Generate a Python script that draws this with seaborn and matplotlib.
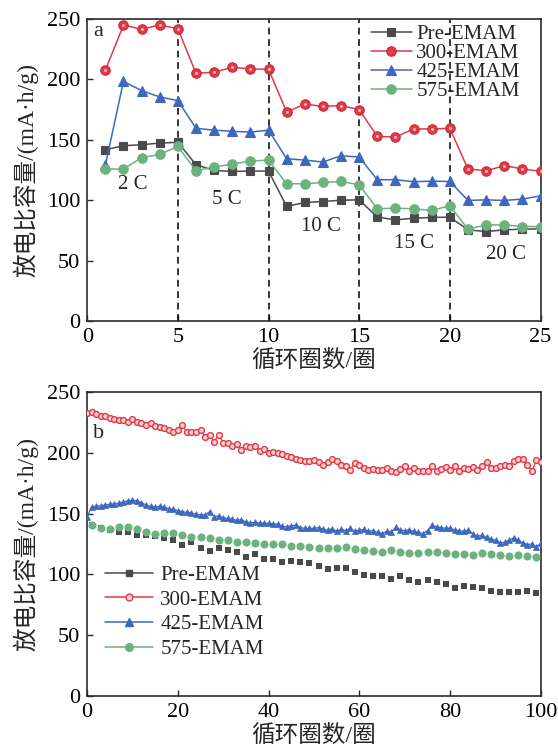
import numpy as np
import pandas as pd
import matplotlib
matplotlib.use("Agg")
import matplotlib.pyplot as plt
from matplotlib.lines import Line2D
import seaborn as sns

# ---------------- data: panel a (rate performance) ----------------
rate_cycles = list(range(1, 26))
pre_rate = [141.8, 145.1, 145.9, 147.3, 147.9, 129.4, 124.6, 123.8, 124.1, 124.1,
            94.8, 98.1, 98.9, 100.0, 100.3, 86.0, 83.7, 85.1, 85.7, 86.0,
            75.5, 74.0, 75.5, 76.0, 76.3]
e300_rate = [207.5, 245.0, 241.5, 245.0, 242.0, 205.0, 206.0, 210.0, 208.7, 208.4,
             173.0, 179.5, 177.7, 178.3, 175.0, 152.8, 152.3, 159.0, 159.0, 159.5,
             125.8, 124.4, 128.5, 126.0, 123.8]
e425_rate = [128.8, 198.4, 190.7, 185.5, 182.4, 159.5, 158.0, 157.0, 156.4, 158.0,
             134.3, 133.2, 131.6, 136.8, 135.7, 116.9, 117.0, 115.3, 115.8, 115.5,
             99.8, 100.3, 99.8, 100.9, 103.6]
e575_rate = [125.8, 125.8, 135.2, 137.9, 144.5, 124.4, 127.4, 129.9, 132.4, 133.2,
             113.6, 113.6, 114.7, 115.5, 112.8, 92.9, 93.4, 92.9, 91.5, 95.4,
             76.0, 79.6, 79.6, 78.2, 78.2]
rate_boundaries = [5, 10, 15, 20]
rate_labels = ["2 C", "5 C", "10 C", "15 C", "20 C"]
rate_label_x = [2.53, 7.7, 12.9, 18.0, 23.1]
rate_label_y = [112.8, 100.3, 78.0, 64.4, 54.7]

# ---------------- data: panel b (cycling) ----------------
cycles_full = list(range(0, 101))
cycles_odd = list(range(1, 100, 2))
e300_cyc = [232.8, 233.6, 232.3, 230.3, 230.1, 229.0, 228.1, 227.3, 226.7, 225.3,
            227.6, 225.3, 224.5, 223.1, 224.5, 222.0, 221.2, 220.6, 219.0, 217.0,
            218.4, 222.6, 217.0, 217.0, 217.0, 219.0, 213.0, 214.9, 208.8, 215.0,
            208.2, 208.0, 206.0, 207.4, 202.4, 206.0, 204.6, 205.4, 201.8, 202.9,
            199.6, 200.4, 199.9, 199.0, 197.1, 196.3, 194.9, 194.1, 193.5, 193.5,
            194.1, 192.2, 190.0, 192.7, 195.0, 193.6, 190.3, 189.5, 186.0, 191.6,
            190.0, 187.3, 186.0, 186.3, 186.0, 186.0, 187.6, 185.2, 184.4, 186.3,
            189.4, 185.2, 187.3, 185.2, 184.7, 185.2, 189.4, 185.2, 186.6, 188.0,
            185.8, 189.4, 185.2, 187.3, 186.6, 188.0, 186.1, 189.4, 192.2, 187.3,
            187.3, 188.9, 190.0, 189.4, 193.6, 195.0, 195.0, 190.3, 184.7, 194.0,
            192.2]
e425_cyc = [147.4, 155.2, 156.0, 156.5, 157.0, 157.5, 158.0, 158.5, 159.5, 160.5,
            161.0, 160.5, 159.0, 157.0, 156.0, 155.5, 156.0, 155.5, 154.0, 153.5,
            152.5, 151.5, 151.0, 150.5, 149.5, 148.8, 149.0, 151.6, 147.5, 148.0,
            146.5, 146.0, 145.2, 144.5, 145.0, 143.0, 142.5, 142.8, 142.2, 141.9,
            142.0, 141.5, 141.3, 139.5, 139.1, 140.0, 140.5, 138.5, 137.8, 138.0,
            137.8, 138.5, 137.0, 136.5, 137.5, 135.5, 137.0, 136.0, 137.8, 135.5,
            136.5, 137.0, 135.5, 136.0, 134.5, 133.6, 135.5, 135.0, 138.6, 136.5,
            136.0, 136.5, 135.5, 134.5, 133.6, 136.0, 140.5, 139.0, 138.5, 137.8,
            138.0, 136.5, 136.0, 135.5, 136.5, 133.5, 131.4, 132.0, 130.5, 129.0,
            128.0, 125.8, 126.5, 128.0, 130.3, 128.0, 126.0, 124.5, 125.0, 122.5,
            125.8]
e575_cyc = [140.7, 138.5, 137.2, 138.8, 138.8, 137.2, 135.2, 133.2, 133.8, 133.8,
            132.4, 131.0, 131.0, 130.2, 128.2, 128.2, 126.9, 126.9, 125.5, 124.7,
            124.7, 125.0, 123.3, 123.3, 122.7, 121.9, 121.3, 121.3, 122.7, 120.5,
            120.0, 119.4, 118.6, 120.0, 118.6, 117.8, 117.8, 118.3, 118.6, 117.2,
            116.6, 116.6, 116.3, 117.8, 116.6, 116.1, 115.5, 116.3, 115.3, 114.4]
pre_cyc = [141.0, 138.0, 136.8, 134.6, 134.6, 132.6, 132.6, 131.2, 129.9, 127.9,
           124.3, 126.5, 121.5, 119.3, 121.5, 120.2, 118.8, 114.6, 116.6, 112.9,
           112.4, 110.4, 111.0, 110.4, 109.1, 106.9, 104.4, 105.5, 105.0, 101.6,
           99.4, 98.6, 98.6, 96.6, 98.6, 95.8, 93.8, 95.3, 93.8, 91.7,
           88.9, 90.5, 89.7, 88.9, 86.4, 85.5, 85.5, 85.5, 86.4, 84.7]

series_names = ["Pre-EMAM", "300-EMAM", "425-EMAM", "575-EMAM"]
xlabel = "循环圈数/圈"
ylabel = "放电比容量/(mA·h/g)"

# ---------------- style ----------------
sns.set_theme(style="ticks")
plt.rcParams["font.family"] = ["Liberation Serif", "Noto Sans CJK SC"]
plt.rcParams["axes.unicode_minus"] = False

C_GREY = "#4a4a4a"
C_RED = "#e03a46"
C_BLUE = "#3d68bf"
C_GREEN = "#6cb27f"

fig = plt.figure(figsize=(5.58, 7.51), dpi=100)
W, H = 558.0, 751.0
ax1 = fig.add_axes([87.2 / W, 1 - 321 / H, (540.5 - 87.2) / W, (321 - 19) / H])
ax2 = fig.add_axes([87.0 / W, 1 - 696 / H, (541 - 87.0) / W, (696 - 392) / H])

# ---------------- panel a ----------------
styles_a = [
    dict(color=C_GREY, marker="s", markersize=6.2, markerfacecolor=C_GREY, markeredgecolor=C_GREY),
    dict(color=C_RED, marker="o", markersize=6.8, markerfacecolor=C_RED, markeredgecolor="#c52c38"),
    dict(color=C_BLUE, marker="^", markersize=7.5, markerfacecolor=C_BLUE, markeredgecolor=C_BLUE),
    dict(color=C_GREEN, marker="o", markersize=6.8, markerfacecolor=C_GREEN, markeredgecolor=C_GREEN),
]
for vals, st in zip([pre_rate, e300_rate, e425_rate, e575_rate], styles_a):
    sns.lineplot(x=rate_cycles, y=vals, ax=ax1, linewidth=1.1, sort=False,
                 estimator=None, markeredgewidth=0.8, zorder=3, **st)
# highlight on red balls
sns.lineplot(x=rate_cycles, y=e300_rate, ax=ax1, linestyle="none", marker="o",
             markersize=2.2, markerfacecolor="#f6b3b8", markeredgewidth=0,
             sort=False, estimator=None, zorder=4)

for b in rate_boundaries:
    ax1.axvline(b, color="black", linestyle=(0, (4.5, 3)), linewidth=1.1, zorder=2)

for lab, lx, ly in zip(rate_labels, rate_label_x, rate_label_y):
    ax1.text(lx, ly, lab, ha="center", va="center", fontsize=15)

ax1.text(0.024, 0.957, "a", transform=ax1.transAxes, ha="center", va="center", fontsize=16)

ax1.set_xlim(0, 25)
ax1.set_ylim(0, 250)
ax1.set_xticks([0, 5, 10, 15, 20, 25])
ax1.set_yticks([0, 50, 100, 150, 200, 250])

handles_a = [Line2D([], [], linewidth=1.1, markeredgewidth=0.8, **st) for st in styles_a]
ax1.legend(handles_a, series_names, loc="upper left", bbox_to_anchor=(0.625, 0.982),
           frameon=False, fontsize=15, handlelength=2.0, handletextpad=0.2,
           labelspacing=-0.03, borderpad=0, borderaxespad=0)

# ---------------- panel b ----------------
sns.lineplot(x=cycles_full, y=e300_cyc, ax=ax2, color=C_RED, linewidth=0.9, marker="o",
             markersize=4.2, markerfacecolor="#f8cfd2", markeredgecolor=C_RED,
             markeredgewidth=1.0, sort=False, estimator=None, zorder=3)
sns.lineplot(x=cycles_full, y=e425_cyc, ax=ax2, color=C_BLUE, linewidth=0.9, marker="^",
             markersize=5.0, markerfacecolor=C_BLUE, markeredgecolor=C_BLUE,
             markeredgewidth=0.5, sort=False, estimator=None, zorder=3)
sns.scatterplot(x=cycles_odd, y=pre_cyc, ax=ax2, color=C_GREY, marker="s", s=20,
                edgecolor=C_GREY, linewidth=0, zorder=3)
sns.scatterplot(x=cycles_odd, y=e575_cyc, ax=ax2, color=C_GREEN, marker="o", s=34,
                edgecolor=C_GREEN, linewidth=0, zorder=4)

ax2.text(0.026, 0.865, "b", transform=ax2.transAxes, ha="center", va="center", fontsize=16)

ax2.set_xlim(0, 100)
ax2.set_ylim(0, 250)
ax2.set_xticks([0, 20, 40, 60, 80, 100])
ax2.set_yticks([0, 50, 100, 150, 200, 250])

handles_b = [
    Line2D([], [], color=C_GREY, marker="s", markersize=5, linewidth=1.1),
    Line2D([], [], color=C_RED, marker="o", markersize=5, markerfacecolor="#f8cfd2",
           markeredgecolor=C_RED, linewidth=1.1),
    Line2D([], [], color=C_BLUE, marker="^", markersize=6, linewidth=1.1),
    Line2D([], [], color=C_GREEN, marker="o", markersize=5.5, linewidth=1.1),
]
ax2.legend(handles_b, series_names, loc="upper left", bbox_to_anchor=(0.04, 0.43),
           frameon=False, fontsize=15, handlelength=2.3, handletextpad=0.35,
           labelspacing=0.25, borderpad=0, borderaxespad=0)

# ---------------- common axis styling ----------------
for ax in (ax1, ax2):
    for sp in ax.spines.values():
        sp.set_visible(True)
        sp.set_color("#2b2b2b")
        sp.set_linewidth(1.2)
    ax.tick_params(direction="in", length=4, width=1.0, colors="#2b2b2b",
                   labelcolor="black", labelsize=16, pad=5, top=False, right=False)
    ax.set_xlabel(xlabel, fontsize=17, labelpad=2)
    ax.set_ylabel(ylabel, fontsize=17, labelpad=6)

fig.savefig("out.png", dpi=100)
